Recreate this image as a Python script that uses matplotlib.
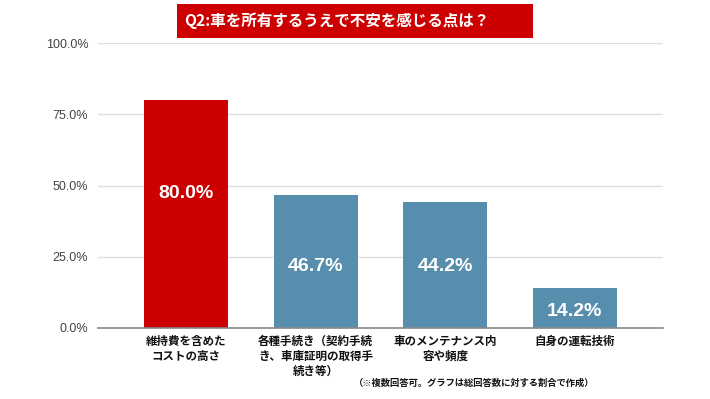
import matplotlib
matplotlib.use("Agg")
import matplotlib.pyplot as plt
from matplotlib.patches import Rectangle

plt.rcParams['font.family'] = ['Noto Sans CJK JP', 'DejaVu Sans']

categories = [
    "維持費を含めた\nコストの高さ",
    "各種手続き（契約手続\nき、車庫証明の取得手\n続き等）",
    "車のメンテナンス内\n容や頻度",
    "自身の運転技術",
]
values = [80.0, 46.7, 44.2, 14.2]
value_labels = ["80.0%", "46.7%", "44.2%", "14.2%"]
yticks = [0, 25, 50, 75, 100]
ytick_labels = ["0.0%", "25.0%", "50.0%", "75.0%", "100.0%"]
title = "Q2:車を所有するうえで不安を感じる点は？"
footnote = "（※複数回答可。グラフは総回答数に対する割合で作成）"

colors = ["#CC0000", "#588EAD", "#588EAD", "#588EAD"]
label_frac = [0.59, 0.46, 0.485, 0.40]

W, H = 710, 399
fig = plt.figure(figsize=(W / 100, H / 100), dpi=100)
fig.patch.set_facecolor("white")

ax = fig.add_axes([98 / W, 71 / H, 565 / W, 285 / H])
x = list(range(len(categories)))
ax.bar(x, values, width=0.65, color=colors, zorder=3)
ax.set_xlim(-0.68, len(categories) - 1 + 0.68)
ax.set_ylim(0, 100)
ax.set_yticks(yticks)
ax.set_yticklabels(ytick_labels, family=['Liberation Sans', 'DejaVu Sans'],
                   fontsize=9, color="#444444")
ax.set_xticks(x)
ax.set_xticklabels(categories, fontsize=8.3, fontweight="bold", color="#111111",
                   linespacing=1.2, va="top")
ax.tick_params(axis="both", length=0)
ax.tick_params(axis="y", pad=7)
ax.tick_params(axis="x", pad=5)
ax.grid(axis="y", color="#DDDDDD", linewidth=1, zorder=0)
for s in ["top", "right", "left"]:
    ax.spines[s].set_visible(False)
ax.spines["bottom"].set_color("#888888")
ax.spines["bottom"].set_linewidth(1.2)
ax.spines["bottom"].set_zorder(4)

for xi, v, lab, f in zip(x, values, value_labels, label_frac):
    ax.text(xi, v * f, lab, ha="center", va="center", color="white",
            fontsize=14, fontweight="bold",
            family=['Liberation Sans', 'DejaVu Sans'], zorder=5)

# title box
fig.patches.append(Rectangle((177 / W, 1 - 38 / H), (533 - 177) / W, 34 / H,
                             transform=fig.transFigure, facecolor="#CC0000",
                             edgecolor="none", zorder=10))
fig.text(184 / W, 1 - 21 / H, title, ha="left", va="center", color="white",
         fontsize=11.2, fontweight="bold", zorder=11)

fig.text(594 / W, 1 - 383 / H, footnote, ha="right", va="center",
         fontsize=6.7, fontweight="bold", color="#111111")

fig.savefig("out.png", dpi=100, facecolor="white")
